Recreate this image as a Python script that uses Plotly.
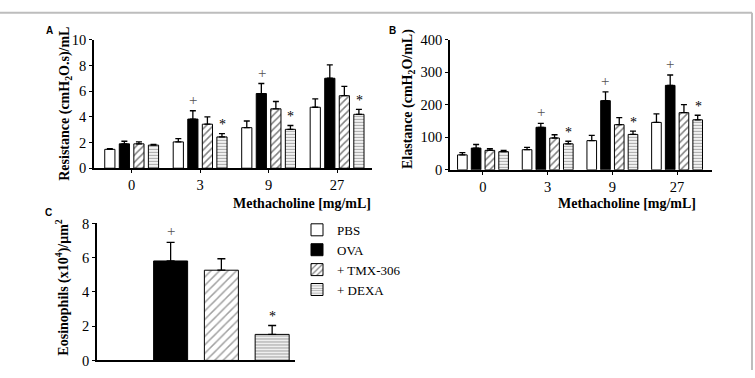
import plotly.graph_objects as go

W, H = 755, 378

doses = ["0", "3", "9", "27"]
groups = ["PBS", "OVA", "+ TMX-306", "+ DEXA"]

# Panel A: Resistance (cmH2O.s)/mL
res_pbs = [1.47, 2.05, 3.16, 4.75]
res_ova = [1.90, 3.83, 5.82, 7.01]
res_tmx = [1.90, 3.43, 4.63, 5.65]
res_dexa = [1.80, 2.44, 3.03, 4.20]
res_pbs_sem = [0.05, 0.25, 0.52, 0.66]
res_ova_sem = [0.20, 0.65, 0.78, 1.05]
res_tmx_sem = [0.15, 0.57, 0.57, 0.72]
res_dexa_sem = [0.05, 0.26, 0.30, 0.38]

# Panel B: Elastance (cmH2O/mL)
ela_pbs = [46, 62, 90, 146]
ela_ova = [67, 131, 213, 260]
ela_tmx = [60, 98, 139, 176]
ela_dexa = [56, 80, 109, 154]
ela_pbs_sem = [7, 7, 16, 26]
ela_ova_sem = [11, 12, 27, 32]
ela_tmx_sem = [5, 10, 22, 25]
ela_dexa_sem = [4, 8, 10, 14]

# Panel C: Eosinophils (x10^4)/um^2
eos_mean = [None, 5.81, 5.27, 1.52]
eos_sem = [0, 1.09, 0.67, 0.52]

# significance marks (dose indices)
res_plus = [1, 2]      # OVA marked "+"
res_star = [1, 2, 3]   # DEXA marked "*"
ela_plus = [1, 2, 3]
ela_star = [1, 2, 3]


def px(x):
    return x / W


def py(y):
    return 1 - y / H


SERIF = "Liberation Serif"
fills = ["white", "black", "white", "white"]
patterns = [
    dict(shape=""),
    dict(shape=""),
    dict(shape="/", fgcolor="black", bgcolor="white", size=5, solidity=0.3),
    dict(shape="-", fgcolor="#555555", bgcolor="white", size=3, solidity=0.45),
]

fig = go.Figure()

res_means = [res_pbs, res_ova, res_tmx, res_dexa]
res_sems = [res_pbs_sem, res_ova_sem, res_tmx_sem, res_dexa_sem]
ela_means = [ela_pbs, ela_ova, ela_tmx, ela_dexa]
ela_sems = [ela_pbs_sem, ela_ova_sem, ela_tmx_sem, ela_dexa_sem]

for i, g in enumerate(groups):
    fig.add_trace(go.Bar(
        x=doses, y=res_means[i], name=g, xaxis="x", yaxis="y",
        marker=dict(color=fills[i], line=dict(color="black", width=1), pattern=patterns[i]),
        error_y=dict(type="data", array=res_sems[i], arrayminus=[0] * 4, symmetric=False,
                     color="black", thickness=1.3, width=3),
        offsetgroup=str(i), showlegend=True, legendgroup=g,
    ))
for i, g in enumerate(groups):
    fig.add_trace(go.Bar(
        x=doses, y=ela_means[i], name=g, xaxis="x2", yaxis="y2",
        marker=dict(color=fills[i], line=dict(color="black", width=1), pattern=patterns[i]),
        error_y=dict(type="data", array=ela_sems[i], arrayminus=[0] * 4, symmetric=False,
                     color="black", thickness=1.3, width=3),
        offsetgroup=str(i), showlegend=False, legendgroup=g,
    ))

fig.add_trace(go.Bar(
    x=groups, y=eos_mean, xaxis="x3", yaxis="y3", width=0.67,
    marker=dict(color=fills, line=dict(color="black", width=1),
                pattern=dict(shape=["", "", "/", "-"], fgcolor=["black", "black", "black", "#555555"],
                             bgcolor="white", size=[5, 5, 6, 3], solidity=[0.3, 0.3, 0.25, 0.45])),
    error_y=dict(type="data", array=eos_sem, arrayminus=[0] * 4, symmetric=False,
                 color="black", thickness=1.3, width=4),
    showlegend=False,
))

tickfont = dict(family=SERIF, size=14.5, color="black")
axis_common = dict(showline=True, linecolor="black", linewidth=1.5, ticks="outside",
                   ticklen=3, tickwidth=1.3, tickcolor="black", showgrid=False,
                   zeroline=False, tickfont=tickfont)

fig.update_layout(
    width=W, height=H, margin=dict(l=0, r=0, t=0, b=0),
    paper_bgcolor="white", plot_bgcolor="white",
    barmode="group", bargap=0.15, bargroupgap=0.3,
    xaxis=dict(domain=[px(94), px(372)], anchor="y", type="category",
               range=[-0.55, 3.51], **axis_common),
    yaxis=dict(domain=[py(167.3), py(33.3)], anchor="x", range=[0, 10],
               tickvals=[0, 2, 4, 6, 8, 10], **axis_common),
    xaxis2=dict(domain=[px(450), px(712)], anchor="y2", type="category",
                range=[-0.51, 3.54], **axis_common),
    yaxis2=dict(domain=[py(169), py(33.3)], anchor="x2", range=[0, 400],
                tickvals=[0, 100, 200, 300, 400], **axis_common),
    xaxis3=dict(domain=[px(97), px(295)], anchor="y3", type="category",
                range=[-0.45, 3.45], showline=True, linecolor="black", linewidth=1.5,
                ticks="", showticklabels=False, showgrid=False, zeroline=False),
    yaxis3=dict(domain=[py(368), py(225)], anchor="x3", range=[0, 8],
                tickvals=[0, 2, 4, 6, 8], **axis_common),
    legend=dict(x=px(297), y=py(216), xanchor="left", yanchor="top",
                font=dict(family=SERIF, size=13, color="black"),
                bgcolor="rgba(0,0,0,0)", tracegroupgap=0, itemwidth=30),
)

ann = []
title_font = dict(family=SERIF, size=14, color="black")


def paper_text(text, x, y, angle=0, font=title_font):
    return dict(x=px(x), y=py(y), xref="paper", yref="paper", text=text, textangle=angle,
                showarrow=False, xanchor="center", yanchor="middle", font=font)


# y-axis titles
ann.append(paper_text("<b>Resistance (cmH<sub>2</sub>O.s)/mL</b>", 66, 100, -90))
ann.append(paper_text("<b>Elastance (cmH<sub>2</sub>O/mL)</b>", 409, 95, -90))
ann.append(paper_text("<b>Eosinophils (x10<sup>4</sup>)/μm<sup>2</sup></b>", 63, 292, -90))
# x-axis titles
ann.append(paper_text("<b>Methacholine [mg/mL]</b>", 302, 204))
ann.append(paper_text("<b>Methacholine [mg/mL]</b>", 627, 204))
# panel letters
for lbl, xx, yy in [("A", 49, 23), ("B", 392, 24), ("C", 48, 214)]:
    ann.append(paper_text("<b>" + lbl + "</b>", xx, yy,
                          font=dict(family="Liberation Sans", size=10, color="black")))

plus_font = dict(family=SERIF, size=15, color="#555555")
star_font = dict(family=SERIF, size=14, color="black")


def mark(text, xi, yv, xr, yr, xshift, yshift, font):
    return dict(x=xi, y=yv, xref=xr, yref=yr, text=text, showarrow=False,
                xanchor="center", yanchor="middle", xshift=xshift, yshift=yshift, font=font)


for k in res_plus:
    ann.append(mark("+", k, res_ova[k] + res_ova_sem[k], "x", "y", -7, 11, plus_font))
for k in res_star:
    ann.append(mark("*", k, res_dexa[k] + res_dexa_sem[k], "x", "y", 22, 9, star_font))
for k in ela_plus:
    ann.append(mark("+", k, ela_ova[k] + ela_ova_sem[k], "x2", "y2", -7, 11, plus_font))
for k in ela_star:
    ann.append(mark("*", k, ela_dexa[k] + ela_dexa_sem[k], "x2", "y2", 21, 9, star_font))
ann.append(mark("+", 1, eos_mean[1] + eos_sem[1], "x3", "y3", 0, 11, plus_font))
ann.append(mark("*", 3, eos_mean[3] + eos_sem[3], "x3", "y3", 0, 9, star_font))

fig.update_layout(annotations=ann)

# figure frame
fig.add_shape(type="line", xref="paper", yref="paper", x0=0, x1=px(752), y0=py(5), y1=py(5),
              line=dict(color="#bdbdbd", width=2))
fig.add_shape(type="line", xref="paper", yref="paper", x0=px(752), x1=px(752), y0=py(5), y1=0,
              line=dict(color="#bdbdbd", width=2))

fig.write_html("out.html")
